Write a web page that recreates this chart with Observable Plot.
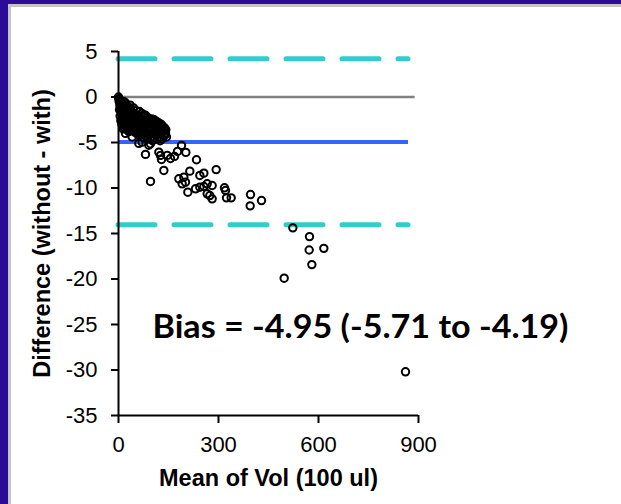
<!DOCTYPE html>
<html><head><meta charset="utf-8">
<script src="https://cdn.jsdelivr.net/npm/d3@7"></script>
<script src="https://cdn.jsdelivr.net/npm/@observablehq/plot@0.6"></script>
<style>
html,body{margin:0;padding:0;width:621px;height:504px;overflow:hidden;background:#2B0B98;}
#panel{position:absolute;left:8px;top:4px;right:0;bottom:0;background:#fff;border-left:3px solid #c4c4c4;border-top:3px solid #c4c4c4;}
#chart{position:absolute;left:0;top:0;}
</style></head><body><div id="panel"></div><div id="chart"></div>
<script>
// Mean of the two measurements (x) and their difference (y)
const meanVol = [0,1,2,3,4,5,6,7,8,9,10,11,12,13,14,15,16,17,18,19,20,21,22,23,25,26,27,28,30,31,32,33,35,36,37,38,40,41,42,43,45,46,47,49,50,52,53,55,56,58,60,61,62,63,65,66,67,69,70,71,72,74,76,77,78,80,81,83,85,86,88,90,91,93,95,96,96,98,100,101,103,105,106,108,110,111,113,115,117,119,121,121,124,126,128,131,133,136,139,142,
  3,5,7,9,10,12,14,15,18,20,22,24,27,29,30,33,34,39,43,44,48,51,54,57,59,64,68,73,75,79,82,84,87,89,92,94,97,99,102,104,107,109,112,114,116,118,120,123,125,127,130,132,135,138,141,144,
  189,202,177,168,156,146,129,126,121,81,234,136,96,214,293,181,196,191,201,244,256,208,231,244,256,266,281,266,274,281,318,321,324,338,396,395,429,523,573,572,616,580,497,861];
const difference = [0,-0.2,-0.5,-0.3,-0.9,-0.6,-1.2,-0.4,-1.5,-0.9,-1.9,-0.7,-1.3,-2.3,-1.0,-1.7,-3.3,-2.6,-1.2,-2.0,-0.6,-4.0,-2.9,-1.5,-2.3,-3.6,-1.0,-1.9,-2.7,-3.8,-1.4,-2.4,-0.9,-3.7,-2.1,-3.1,-1.6,-4.4,-2.6,-2.2,-1.2,-3.4,-2.8,-1.9,-3.9,-2.4,-1.5,-3.0,-3.5,-2.1,-4.2,-5.1,-2.7,-1.6,-3.3,-4.0,-2.4,-3.7,-1.8,-4.96,-2.9,-3.5,-2.75,-4.5,-2.2,-3.2,-2.0,-3.9,-2.6,-2.2,-3.4,-4.2,-5.3,-2.9,-3.7,-2.93,-5.13,-4.4,-2.4,-3.3,-3.9,-2.7,-4.58,-3.2,-2.9,-3.67,-4.2,-3.0,-3.8,-2.8,-3.3,-4.0,-3.5,-4.4,-3.0,-4.58,-3.8,-3.63,-4.2,-3.6,
  -1.4,-2.1,-2.6,-1.2,-3.0,-2.6,-3.5,-0.5,-3.0,-2.4,-1.1,-3.2,-2.5,-1.6,-3.4,-1.2,-3.0,-2.5,-3.6,-1.9,-2.6,-3.3,-2.0,-4.0,-3.0,-2.5,-3.0,-4.1,-2.0,-3.6,-4.3,-2.9,-4.6,-2.5,-3.3,-4.0,-2.6,-3.6,-4.8,-3.1,-2.5,-4.0,-3.2,-2.7,-4.6,-3.4,-2.9,-3.8,-4.8,-3.4,-3.9,-3.2,-4.2,-3.4,-4.0,-4.4,
  -5.32,-6.09,-5.98,-6.53,-6.75,-6.42,-6.86,-6.42,-6.06,-6.31,-6.89,-8.07,-9.28,-8.15,-7.98,-8.99,-8.81,-9.54,-9.36,-8.62,-8.37,-10.46,-10.09,-9.91,-9.83,-9.54,-9.72,-10.64,-10.83,-11.19,-9.98,-10.28,-11.08,-11.08,-10.72,-11.96,-11.38,-14.38,-15.34,-16.81,-16.63,-18.42,-19.91,-30.2];

const bias = -4.95;
const upperLoA = 4.2;
const lowerLoA = -14.05;
const xTicks = [0, 300, 600, 900];
const yTicks = [5, 0, -5, -10, -15, -20, -25, -30, -35];
const xTitle = "Mean of Vol (100 ul)";
const yTitle = "Difference (without - with)";
const biasNote = {label: "Bias = -4.95 (-5.71 to -4.19)", x: 102, y: -25.4};

const points = meanVol.map((x, i) => ({x, y: difference[i]}));

const chart = Plot.plot({
  width: 621, height: 504,
  marginLeft: 118, marginRight: 203, marginTop: 51, marginBottom: 89,
  style: {background: "transparent", fontFamily: "'Liberation Sans', Arial, sans-serif", fontSize: "22px", color: "#000", overflow: "visible"},
  x: {domain: [0, 900]},
  y: {domain: [-35, 5]},
  marks: [
    Plot.axisX({ticks: xTicks, tickSize: 8, tickPadding: 13, tickFormat: d => String(d), label: null, strokeWidth: 2, fontSize: 22}),
    Plot.axisY({ticks: yTicks, tickSize: 7, tickPadding: 14, tickFormat: d => String(d), label: null, strokeWidth: 2, fontSize: 22}),
    Plot.ruleY([0], {x1: 0, x2: 890, stroke: "#808080", strokeWidth: 2.5}),
    Plot.ruleY([upperLoA, lowerLoA], {x1: 0, x2: 870, stroke: "#33CCCC", strokeWidth: 5, strokeDasharray: "37,19", strokeLinecap: "round"}),
    Plot.ruleY([bias], {x1: 0, x2: 870, stroke: "#3366FF", strokeWidth: 4}),
    Plot.dot(points, {x: "x", y: "y", r: 3.7, stroke: "#000", strokeWidth: 2, fill: "none"}),
    Plot.ruleX([0], {y1: -35, y2: 5, stroke: "#000", strokeWidth: 2}),
    Plot.ruleY([-35], {x1: 0, x2: 900, stroke: "#000", strokeWidth: 2}),
    Plot.text([yTitle], {text: d => d, frameAnchor: "left", textAnchor: "middle", lineAnchor: "middle", dx: -76, rotate: -90, fontWeight: "bold", fontSize: 23.5}),
    Plot.text([xTitle], {text: d => d, frameAnchor: "bottom", textAnchor: "middle", lineAnchor: "middle", dy: 63, fontWeight: "bold", fontSize: 23.5}),
    Plot.text([biasNote], {x: "x", y: "y", text: "label", textAnchor: "start", fontWeight: "bold", fontSize: 32, fontFamily: "Lato, 'Open Sans', sans-serif", className: "bias-note"})
  ]
});
document.getElementById("chart").appendChild(chart);
d3.select(chart).selectAll(".bias-note text").attr("textLength", 416).attr("lengthAdjust", "spacingAndGlyphs");
</script></body></html>
